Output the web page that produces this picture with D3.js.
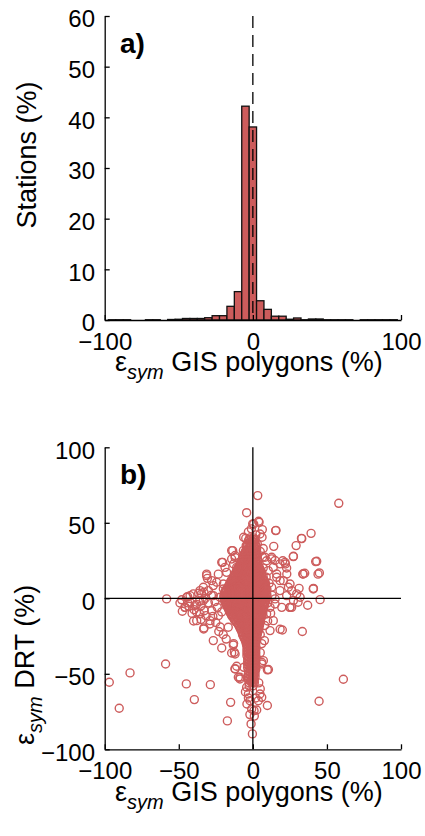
<!DOCTYPE html>
<html>
<head>
<meta charset="utf-8">
<script src="https://cdn.jsdelivr.net/npm/d3@7"></script>
<style>
	body { margin: 0; background: #fff; }
	text { font-family: "Liberation Sans", Arial, Helvetica, sans-serif; }
</style>
</head>
<body>
<svg id="chart" width="425" height="836"></svg>
<script>
"use strict"

//
// Data
//
// a) histogram: bin centres (%) and share of stations (%)
var binCenters = [-100,-95,-90,-85,-80,-75,-70,-65,-60,-55,-50,-45,-40,-35,-30,-25,-20,-15,-10,-5,
	0,5,10,15,20,25,30,35,40,45,50,55,60,65,70,75,80,85,90,95,100];
var binValues  = [0,0.05,0.05,0.05,0,0,0.05,0.05,0,0.1,0.15,0.3,0.3,0.3,0.45,0.85,0.85,2.7,5.6,42.2,
	38.1,3.8,2.1,0.75,0.75,0.15,0.4,0.05,0.2,0.2,0.05,0.05,0.05,0.05,0,0.05,0.05,0.05,0.05,0.05,0];
var histTicksX = [-100, 0, 100];
var histTicksY = [0, 10, 20, 30, 40, 50, 60];

// b) scatter: dense core, one row per DRT value with its GIS values
var coreRows = [
	[40, [-2, 0.5]],
	[38, [-3, -0.5, 1.5]],
	[36, [-3.5, -1, 1.5]],
	[34, [-4, -1.5, 1, 2.5]],
	[32, [-4.5, -2, 0.5, 2.5]],
	[30, [-5.5, -3, -0.5, 2]],
	[28, [-6.5, -4, -1.5, 1, 3]],
	[26, [-7, -4.5, -2, 0.5, 3]],
	[24, [-8, -5.5, -3, -0.5, 2, 3.5]],
	[22, [-9, -6.5, -4, -1.5, 1, 3.5]],
	[20, [-10, -7.5, -5, -2.5, 0, 2.5, 4.5]],
	[18, [-11, -8.5, -6, -3.5, -1, 1.5, 4, 5.5]],
	[16, [-12, -9.5, -7, -4.5, -2, 0.5, 3, 5.5]],
	[14, [-13, -10.5, -8, -5.5, -3, -0.5, 2, 4.5, 7]],
	[12, [-14.5, -12, -9.5, -7, -4.5, -2, 0.5, 3, 5.5, 7.5]],
	[10, [-15.5, -13, -10.5, -8, -5.5, -3, -0.5, 2, 4.5, 7, 8.5]],
	[8, [-16.5, -14, -11.5, -9, -6.5, -4, -1.5, 1, 3.5, 6, 8.5]],
	[6, [-18, -15.5, -13, -10.5, -8, -5.5, -3, -0.5, 2, 4.5, 7, 9.5]],
	[4, [-19, -16.5, -14, -11.5, -9, -6.5, -4, -1.5, 1, 3.5, 6, 8.5]],
	[2, [-19.5, -17, -14.5, -12, -9.5, -7, -4.5, -2, 0.5, 3, 5.5, 8, 9.5]],
	[0, [-19.5, -17, -14.5, -12, -9.5, -7, -4.5, -2, 0.5, 3, 5.5, 8, 9]],
	[-2, [-19, -16.5, -14, -11.5, -9, -6.5, -4, -1.5, 1, 3.5, 6, 8.5]],
	[-4, [-18, -15.5, -13, -10.5, -8, -5.5, -3, -0.5, 2, 4.5, 7, 8]],
	[-6, [-17, -14.5, -12, -9.5, -7, -4.5, -2, 0.5, 3, 5.5, 7.5]],
	[-8, [-16, -13.5, -11, -8.5, -6, -3.5, -1, 1.5, 4, 6.5]],
	[-10, [-15, -12.5, -10, -7.5, -5, -2.5, 0, 2.5, 5, 6.5]],
	[-12, [-14, -11.5, -9, -6.5, -4, -1.5, 1, 3.5, 6]],
	[-14, [-12.5, -10, -7.5, -5, -2.5, 0, 2.5, 5]],
	[-16, [-11, -8.5, -6, -3.5, -1, 1.5, 4, 5]],
	[-18, [-9.5, -7, -4.5, -2, 0.5, 3, 4.5]],
	[-20, [-8.5, -6, -3.5, -1, 1.5, 4]],
	[-22, [-7.5, -5, -2.5, 0, 2.5, 3.5]],
	[-24, [-7, -4.5, -2, 0.5, 3]],
	[-26, [-6, -3.5, -1, 1.5, 2.5]],
	[-28, [-5, -2.5, 0, 2.5]],
	[-30, [-4.5, -2, 0.5, 2]],
	[-32, [-4, -1.5, 1, 2]],
	[-34, [-4, -1.5, 1, 2]],
	[-36, [-4, -1.5, 1, 2]],
	[-38, [-4, -1.5, 1, 2]],
	[-40, [-3.5, -1, 1.5]],
	[-42, [-3.5, -1, 1.5]],
	[-44, [-3.5, -1, 1.5]],
	[-46, [-3.5, -1, 1.5]],
	[-48, [-3, -0.5, 1.5]],
	[-50, [-3, -0.5, 1.5]],
	[-52, [-3, -0.5, 1.5]],
	[-54, [-3, -0.5, 1]],
	[-56, [-2.5, 0, 1]],
	[-58, [-2.5, 0]]
];
// in-between rows of the same core
var coreRowsOdd = [
	[39, [-2.5, 0, 1.5]],
	[37, [-2, 0.5]],
	[35, [-4.5, -2, 0.5, 2]],
	[33, [-3, -0.5, 2]],
	[31, [-5, -3.5, -1, 1.5]],
	[29, [-6, -2.5, 0, 2.5]],
	[27, [-6.5, -5, -3, -0.5, 2]],
	[25, [-7.5, -6, -3.5, -1, 1.5, 3.5]],
	[23, [-8.5, -7, -4.5, -2, 0.5, 3]],
	[21, [-9.5, -8.5, -6, -3.5, -1, 1.5, 4]],
	[19, [-10.5, -9.5, -7, -4.5, -2, 0.5, 3, 5]],
	[17, [-11.5, -10.5, -8, -5.5, -3, -0.5, 2, 4.5, 6]],
	[15, [-12.5, -11.5, -9, -6.5, -4, -1.5, 1, 3.5, 6]],
	[13, [-13.5, -11, -8.5, -6, -3.5, -1, 1.5, 4, 6.5]],
	[11, [-15, -14, -11.5, -9, -6.5, -4, -1.5, 1, 3.5, 6, 8]],
	[9, [-16, -14.5, -12, -9.5, -7, -4.5, -2, 0.5, 3, 5.5, 8]],
	[7, [-17, -15, -12.5, -10, -7.5, -5, -2.5, 0, 2.5, 5, 7.5, 9]],
	[5, [-18.5, -15.5, -13, -10.5, -8, -5.5, -3, -0.5, 2, 4.5, 7, 9]],
	[3, [-19, -15.5, -13, -10.5, -8, -5.5, -3, -0.5, 2, 4.5, 7, 9]],
	[1, [-19.5, -18, -15.5, -13, -10.5, -8, -5.5, -3, -0.5, 2, 4.5, 7, 9.5]],
	[-1, [-19, -18, -15.5, -13, -10.5, -8, -5.5, -3, -0.5, 2, 4.5, 7, 9]],
	[-3, [-18.5, -15, -12.5, -10, -7.5, -5, -2.5, 0, 2.5, 5, 7.5]],
	[-5, [-17.5, -16, -13.5, -11, -8.5, -6, -3.5, -1, 1.5, 4, 6.5]],
	[-7, [-16.5, -15.5, -13, -10.5, -8, -5.5, -3, -0.5, 2, 4.5, 7]],
	[-9, [-15.5, -14, -11.5, -9, -6.5, -4, -1.5, 1, 3.5, 6]],
	[-11, [-14.5, -13, -10.5, -8, -5.5, -3, -0.5, 2, 4.5, 6]],
	[-13, [-13, -11, -8.5, -6, -3.5, -1, 1.5, 4, 5.5]],
	[-15, [-12, -9.5, -7, -4.5, -2, 0.5, 3, 5]],
	[-17, [-10, -8, -5.5, -3, -0.5, 2, 4.5]],
	[-19, [-9, -6.5, -4, -1.5, 1, 3.5]],
	[-21, [-8, -5.5, -3, -0.5, 2, 4]],
	[-23, [-7, -4, -1.5, 1, 3]],
	[-25, [-6.5, -4.5, -2, 0.5, 2.5]],
	[-27, [-5.5, -3.5, -1, 1.5]],
	[-29, [-4.5, -3, -0.5, 1.5]],
	[-31, [-4, -3, -0.5, 1.5]],
	[-33, [-3, -0.5, 1.5]],
	[-35, [-3, -0.5, 1.5]],
	[-37, [-3, -0.5, 1.5]],
	[-39, [-3, -0.5, 2]],
	[-41, [-2.5, 0, 2]],
	[-43, [-2.5, 0, 2]],
	[-45, [-2.5, 0, 2]],
	[-47, [-2, 0.5, 2]],
	[-49, [-2, 0.5]],
	[-51, [-2, 0.5]],
	[-53, [-2, 0.5]],
	[-55, [-1.5, 0.5]]
];

// b) scatter: scattered stations [GIS, DRT]
var scatterPts = [
	[3.3,68],[58,62.9],[-4.2,56.7],[0.6,49.2],[3.9,51],[6.4,45.5],[15.6,45],[39.3,43],[32.8,39.7],
	[29.2,34.9],[14.1,34.4],[-13.6,31.6],[27.4,27.8],[43.1,24.5],[33.7,16.1],[35,16.6],[44.9,16.8],
	[40.9,6.6],[45.4,-0.9],[31.2,6.6],[37,-4.6],[33.4,-22],[19.9,-21],[18.4,-20.5],
	[-6.2,40.4],[-4.8,39.7],[6.2,40.4],[4.8,42.6],[-12,27],[-13,22.7],[-20.4,23.8],[-23.3,16],
	[-31.2,16],[-30.7,13.2],[-33.4,7.3],[-36.6,3.3],[-34.6,2.9],[-42.4,1.8],[-44,1.1],[-49.2,-3.1],
	[-47.6,-8.6],[-45.8,-6],[-43.1,-5.3],[-39.7,-7.5],[-37.9,-14.8],[-35.7,-10.4],[-32.8,-8.2],
	[-31.6,-11.5],[-28.9,-14.8],[-33.2,-20.3],[-26.7,-28],[-21,-32.9],[-25.6,-2.2],[-27.8,-8.2],
	[-22.2,0.7],[-23.3,-11.5],[-17.7,-3.8],[-16.6,-19.2],[-19.9,9.5],[-26.7,8.4],[-18.8,20.5],
	[-14.3,26],[-10.9,20.5],[-9.8,7.3],
	[-13.2,-30.9],[-14.3,-36.2],[-12,-36.9],[-10.9,-45],[-12,-46.8],[-9.8,-52.3],[-8.7,-53.4],
	[-6,-45.7],[-4.2,-58.9],[-3,-63.4],[-1.9,-67.8],[-0.8,-73.3],[0.8,-74.4],[2.6,-74],[4.8,-63.4],
	[3.7,-67.8],[6,-65.6],[9.8,-71],[10.5,-47.2],[7.1,-41.3],[6,-43.5],[7.8,-28],[9.3,-10.4],
	[11.6,-21.4],[13.8,-14.8],[11.6,-6],[15,-3.8],[19.5,-6],[25.1,-6],[26.2,-6],[27.4,-1.5],
	[29.6,2.9],[31.9,0.7],[24,7.3],[26.2,5.1],[22.9,16.1],[16.1,16.1],[18.4,11.7],[20.2,24.9],
	[22,22.7],[12.7,27.2],[9.3,24.9],[6.6,27.2],[13.8,20.5],
	[-58.2,-0.4],[-58.9,-43.5],[-82.9,-49.4],[-96.9,-55.6],[-90.2,-72.8],[-44.9,-56.7],[-28.7,-57.2],
	[-39.5,-67.1],[-15,-68.9],[-17.2,-81.2],[-1.2,-83.2],[-0.3,-89.8],[61.1,-53.6],[44.7,-68.2],
	[-0.1,49.3],[4.2,50.3],[15.4,44.8],[33,39.5],[27.3,27.6],[42.4,24.3],[34,16.1],[44,16],[40.8,6.2],
	[30.5,-2.6],[25,-6],[-31.2,15],[-27.8,11.7],[-21,23.8],[-14.3,31.6],[-6.4,31.6],[-12,28.3],
	[-17.7,17.2],[-35.7,5.1],[-40.2,2.9],[-44.7,0.7],[-33.4,-1.5],[-26.7,1.8],[-19.9,6.2],[-24.4,10.6],
	[-30,5.1],[-39,-4.8],[-42.4,-2.6],[-45.8,-6],[8.2,27.2],[12.7,26.1],[15,25],[18.3,22.8],[21.7,23.8],
	[22.8,20.1],[10.4,18.3],[16.1,13.9],[20.6,11.7],[25.1,9.5],[18.3,5.1],[12.7,7.3],[22.8,1.8],
	[15,-0.4],[9.3,3.5],
	[-13,-30],[-12.5,-35.8],[-12,-46.6],[-8.7,-52.3],[9.8,-47.4],[6,-42.4],[-33,-19.6],[-40,-15],
	[-38,-9],[-35,-5],[-30,-3],[-28,2],[-32,0],[-36,-2],[-41,-10],[-44,-3],[-48,-1],[-27,-12],
	[-25,-16],[-22,-19],[-20,-24],[-18,-27],[-23,-22],[-29,-17],[-35,-14],[-38,-4],[-33,4],[-24,-6],
	[-21,-9],
	[-5,-62],[-3,-66],[2,-66],[5,-60],[4,-56],[-4,-70],[1,-78],[-2,-77],
	[10,-15],[8,-18],[12,-10],[10,-3],[13,2],[11,10],[9,14],[7,20],[5,-24],[6,-30],[5,-36],
	[3,36],[5,31],[2,42],[-3,44],[-1,46],[7,33]
];
var scatTicks = [-100, -50, 0, 50, 100];

//
// Styles
//
var RED = "#cd5c5c";
var TICKFONT = 24;
var LABELFONT = 27;

var svg = d3.select("#chart");
svg.append("rect").attr("width", 425).attr("height", 836).attr("fill", "#fff");

function styleAxis(g) {
	g.select(".domain").attr("stroke", "#000").attr("stroke-width", 1.3);
	g.selectAll(".tick line").attr("stroke", "#000").attr("stroke-width", 1.3);
	g.selectAll(".tick text")
		.attr("fill", "#000")
		.style("font-size", TICKFONT + "px")
		.style("font-family", "'Liberation Sans', Arial, Helvetica, sans-serif")
		;
}

function minusFmt(d) { return d < 0 ? "\u2212" + Math.abs(d) : "" + d; }

//
// a) histogram
//
var xA = d3.scaleLinear().domain([-100, 100]).range([104.7, 401]);
var yA = d3.scaleLinear().domain([0, 60]).range([320, 16]);

var gA = svg.append("g");
gA.selectAll("rect.bar")
	.data(binCenters.map(function(c, i) { return {c: c, v: binValues[i]}; }).filter(function(d) { return d.v > 0; }))
	.enter().append("rect")
	.attr("class", "bar")
	.attr("x", function(d) { return xA(d.c - 2.5); })
	.attr("width", function(d) { return xA(d.c + 2.5) - xA(d.c - 2.5); })
	.attr("y", function(d) { return yA(d.v); })
	.attr("height", function(d) { return yA(0) - yA(d.v); })
	.attr("fill", RED)
	.attr("stroke", "#111")
	.attr("stroke-width", 1.3)
	;
gA.append("line")
	.attr("x1", xA(0)).attr("x2", xA(0))
	.attr("y1", yA(60)).attr("y2", yA(0))
	.attr("stroke", "#000")
	.attr("stroke-width", 1.3)
	.attr("stroke-dasharray", "12,7")
	;
gA.append("g")
	.attr("transform", "translate(0," + yA(0) + ")")
	.call(d3.axisBottom(xA).tickValues(histTicksX).tickFormat(minusFmt).tickSizeInner(-5).tickSizeOuter(0).tickPadding(13))
	.call(styleAxis)
	;
gA.append("g")
	.attr("transform", "translate(" + xA(-100) + ",0)")
	.call(d3.axisLeft(yA).tickValues(histTicksY).tickFormat(minusFmt).tickSizeInner(-5).tickSizeOuter(0).tickPadding(9.7))
	.call(styleAxis)
	.call(function(g) { g.selectAll(".tick text").attr("dy", "0.45em"); })
	;
gA.append("text")
	.attr("x", 120).attr("y", 53)
	.style("font-size", "28px").style("font-weight", "bold")
	.text("a)")
	;
gA.append("text")
	.attr("transform", "translate(36,155) rotate(-90)")
	.attr("text-anchor", "middle")
	.style("font-size", LABELFONT + "px")
	.text("Stations (%)")
	;
var lxA = gA.append("text").attr("x", 115).attr("y", 371).style("font-size", LABELFONT + "px");
lxA.append("tspan").text("\u03b5");
lxA.append("tspan").attr("dy", 8).style("font-size", "20px").style("font-style", "italic").text("sym");
lxA.append("tspan").attr("dy", -8).text(" GIS polygons (%)");

//
// b) scatter
//
var xB = d3.scaleLinear().domain([-100, 100]).range([104.7, 401]);
var yB = d3.scaleLinear().domain([-100, 100]).range([749.3, 447.3]);

var allPts = [];
coreRows.concat(coreRowsOdd).forEach(function(r) { r[1].forEach(function(x) { allPts.push([x, r[0]]); }); });
scatterPts.forEach(function(p) { allPts.push(p); });

var gB = svg.append("g");
gB.selectAll("circle")
	.data(allPts)
	.enter().append("circle")
	.attr("cx", function(d) { return xB(d[0]); })
	.attr("cy", function(d) { return yB(d[1]); })
	.attr("r", 4)
	.attr("fill", "none")
	.attr("stroke", RED)
	.attr("stroke-width", 1.4)
	;
gB.append("line")
	.attr("x1", xB(-100)).attr("x2", xB(100))
	.attr("y1", yB(0)).attr("y2", yB(0))
	.attr("stroke", "#000").attr("stroke-width", 1.3)
	;
gB.append("line")
	.attr("x1", xB(0)).attr("x2", xB(0))
	.attr("y1", yB(100)).attr("y2", yB(-100))
	.attr("stroke", "#000").attr("stroke-width", 1.3)
	;
gB.append("g")
	.attr("transform", "translate(0," + yB(-100) + ")")
	.call(d3.axisBottom(xB).tickValues(scatTicks).tickFormat(minusFmt).tickSizeInner(-5).tickSizeOuter(0).tickPadding(13))
	.call(styleAxis)
	;
gB.append("g")
	.attr("transform", "translate(" + xB(-100) + ",0)")
	.call(d3.axisLeft(yB).tickValues(scatTicks).tickFormat(minusFmt).tickSizeInner(-5).tickSizeOuter(0).tickPadding(9.7))
	.call(styleAxis)
	.call(function(g) { g.selectAll(".tick text").attr("dy", "0.45em"); })
	;
gB.append("text")
	.attr("x", 120).attr("y", 484)
	.style("font-size", "28px").style("font-weight", "bold")
	.text("b)")
	;
var lyB = gB.append("text").attr("transform", "translate(34,745) rotate(-90)").style("font-size", LABELFONT + "px");
lyB.append("tspan").text("\u03b5");
lyB.append("tspan").attr("dy", 8).style("font-size", "20px").style("font-style", "italic").text("sym");
lyB.append("tspan").attr("dy", -8).text(" DRT (%)");
var lxB = gB.append("text").attr("x", 115).attr("y", 801).style("font-size", LABELFONT + "px");
lxB.append("tspan").text("\u03b5");
lxB.append("tspan").attr("dy", 8).style("font-size", "20px").style("font-style", "italic").text("sym");
lxB.append("tspan").attr("dy", -8).text(" GIS polygons (%)");
</script>
</body>
</html>
